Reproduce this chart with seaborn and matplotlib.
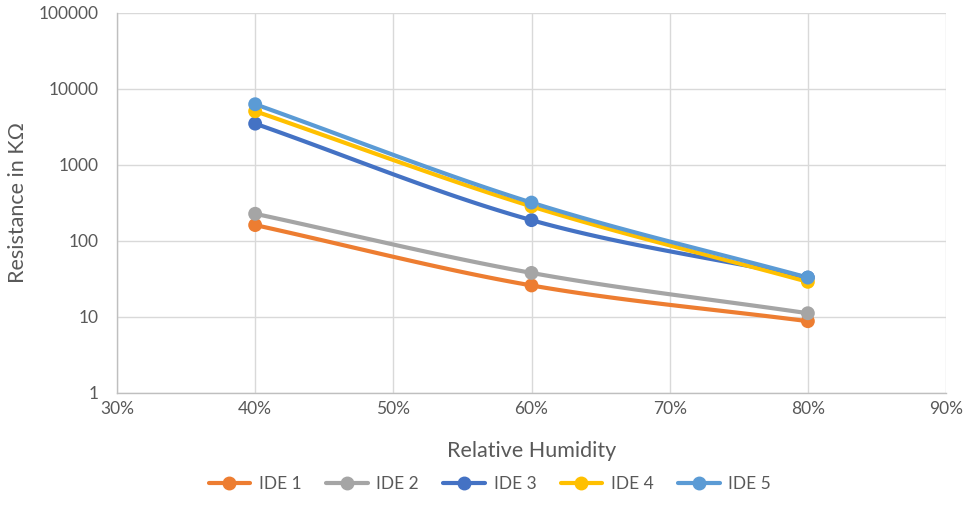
import numpy as np
import pandas as pd
import matplotlib
matplotlib.use("Agg")
import matplotlib.pyplot as plt
from matplotlib.lines import Line2D
from matplotlib.ticker import FixedLocator, FuncFormatter
import seaborn as sns

# Measured resistance (kOhm) of each IDE sensor at three humidity levels
humidity = [40, 60, 80]
series_names = ["IDE 1", "IDE 2", "IDE 3", "IDE 4", "IDE 5"]
ide1 = [162, 26, 8.8]
ide2 = [228, 38, 11.2]
ide3 = [3500, 188, 33]
ide4 = [5100, 285, 29]
ide5 = [6300, 320, 33]
colors = ["#ED7D31", "#A5A5A5", "#4472C4", "#FFC000", "#5B9BD5"]

values = [ide1, ide2, ide3, ide4, ide5]

sns.set_theme(style="white")
plt.rcParams["font.family"] = ["Lato", "DejaVu Sans"]

fig = plt.figure(figsize=(9.7, 5.26), dpi=100)
ax = fig.add_axes([0.1206, 0.2529, 0.8547, 0.7224])


def smooth_path(xs, ys, n=40):
    """Catmull-Rom curve through the points in (x, log10 y) space."""
    xs = np.asarray(xs, float)
    ly = np.log10(np.asarray(ys, float))
    px = np.concatenate([[2 * xs[0] - xs[1]], xs, [2 * xs[-1] - xs[-2]]])
    py = np.concatenate([[2 * ly[0] - ly[1]], ly, [2 * ly[-1] - ly[-2]]])
    out_x, out_y = [], []
    for i in range(1, len(px) - 2):
        t = np.linspace(0, 1, n, endpoint=(i == len(px) - 3))
        for arr, out in ((px, out_x), (py, out_y)):
            p0, p1, p2, p3 = arr[i - 1], arr[i], arr[i + 1], arr[i + 2]
            out.extend(0.5 * ((2 * p1) + (-p0 + p2) * t
                              + (2 * p0 - 5 * p1 + 4 * p2 - p3) * t ** 2
                              + (-p0 + 3 * p1 - 3 * p2 + p3) * t ** 3))
    return np.array(out_x), 10 ** np.array(out_y)


curve_rows = []
point_rows = []
for name, vals in zip(series_names, values):
    cx, cy = smooth_path(humidity, vals)
    for x, y in zip(cx, cy):
        curve_rows.append({"RH": x, "R": y, "Sensor": name})
    for x, y in zip(humidity, vals):
        point_rows.append({"RH": x, "R": y, "Sensor": name})
curves = pd.DataFrame(curve_rows)
points = pd.DataFrame(point_rows)
palette = dict(zip(series_names, colors))

sns.lineplot(data=curves, x="RH", y="R", hue="Sensor", palette=palette,
             linewidth=3.0, sort=False, estimator=None, legend=False, ax=ax,
             zorder=3)
sns.scatterplot(data=points, x="RH", y="R", hue="Sensor", palette=palette,
                s=100, edgecolor="none", legend=False, ax=ax, zorder=4)

ax.set_yscale("log")
ax.set_ylim(1, 100000)
ax.set_xlim(30, 90)
ax.xaxis.set_major_locator(FixedLocator(np.arange(30, 91, 10)))
ax.yaxis.set_major_locator(FixedLocator([1, 10, 100, 1000, 10000, 100000]))
ax.yaxis.set_minor_locator(FixedLocator([]))
ax.xaxis.set_major_formatter(FuncFormatter(lambda v, p: f"{v:.0f}%"))
ax.yaxis.set_major_formatter(FuncFormatter(lambda v, p: f"{v:.0f}"))

ax.grid(True, color="#D9D9D9", linewidth=1.0)
ax.set_axisbelow(True)
for side in ("top", "right"):
    ax.spines[side].set_visible(False)
for side in ("left", "bottom"):
    ax.spines[side].set_color("#BFBFBF")
    ax.spines[side].set_linewidth(1.0)

ax.tick_params(axis="both", length=0, labelsize=12.5, colors="#595959")
ax.tick_params(axis="x", pad=6)
ax.tick_params(axis="y", pad=13)
ax.set_xlabel("Relative Humidity", fontsize=15.5, color="#595959", labelpad=17)
ax.set_ylabel("Resistance in KΩ", fontsize=15.5, color="#595959", labelpad=8)

handles = [Line2D([0], [0], color=c, linewidth=3.0, marker="o", markersize=9)
           for c in colors]
fig.legend(handles, series_names, loc="center", bbox_to_anchor=(0.505, 0.080),
           ncol=5, frameon=False, fontsize=12.5, labelcolor="#595959",
           handlelength=2.4, columnspacing=1.4, handletextpad=0.5)

fig.savefig("out.png", dpi=100, facecolor="white")
